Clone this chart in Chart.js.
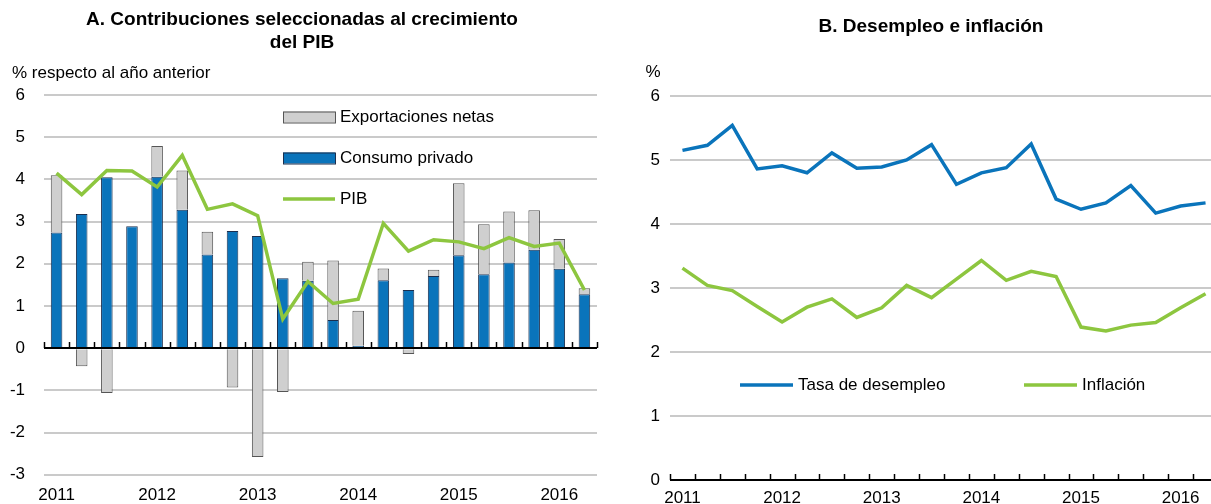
<!DOCTYPE html>
<html>
<head>
<meta charset="utf-8">
<script src="https://cdn.jsdelivr.net/npm/chart.js@4"></script>
<style>
  html, body { margin: 0; padding: 0; background: #fff; overflow: hidden; }
  body { width: 1211px; height: 504px; position: relative; }
  .panel { position: absolute; top: 0; height: 504px; }
  #panelA { left: 0; width: 605px; }
  #panelB { left: 610px; width: 610px; }
</style>
</head>
<body>
<div class="panel" id="panelA"><canvas id="chartA"></canvas></div>
<div class="panel" id="panelB"><canvas id="chartB"></canvas></div>
<script>
// Data (quarterly, 2011T1 - 2016T2)
const quarters = [
    '2011T1', '2011T2', '2011T3', '2011T4',
    '2012T1', '2012T2', '2012T3', '2012T4',
    '2013T1', '2013T2', '2013T3', '2013T4',
    '2014T1', '2014T2', '2014T3', '2014T4',
    '2015T1', '2015T2', '2015T3', '2015T4',
    '2016T1', '2016T2'
];
const yearLabels = ['2011', '2012', '2013', '2014', '2015', '2016'];

// Panel A
const consumoPrivado = [2.74, 3.18, 4.05, 2.89, 4.06, 3.28, 2.22, 2.78, 2.66, 1.66, 1.60, 0.67,
    0.06, 1.61, 1.38, 1.71, 2.20, 1.75, 2.03, 2.33, 1.88, 1.28];
const exportacionesNetas = [1.36, -0.43, -1.06, 0, 0.73, 0.93, 0.54, -0.93, -2.58, -1.04, 0.45, 1.41,
    0.83, 0.28, -0.14, 0.15, 1.71, 1.19, 1.21, 0.94, 0.71, 0.14];
const pib = [4.15, 3.64, 4.21, 4.20, 3.82, 4.57, 3.29, 3.42, 3.14, 0.69, 1.58, 1.06,
    1.16, 2.96, 2.30, 2.57, 2.52, 2.36, 2.62, 2.41, 2.49, 1.38];

// Panel B
const desempleo = [5.15, 5.23, 5.54, 4.86, 4.91, 4.80, 5.11, 4.87, 4.89, 5.00, 5.24, 4.62,
    4.80, 4.88, 5.25, 4.39, 4.23, 4.33, 4.60, 4.17, 4.28, 4.33];
const inflacion = [3.31, 3.04, 2.96, 2.71, 2.47, 2.70, 2.83, 2.54, 2.69, 3.04, 2.85, 3.14,
    3.43, 3.12, 3.26, 3.18, 2.39, 2.33, 2.42, 2.46, 2.69, 2.91];

// Style
const FONT = '"Liberation Sans", Arial, sans-serif';
const BLUE = '#0a74bb';
const GREEN = '#8dc63f';
const GREY = '#cfcfcf';
const GRID = '#cacaca';

Chart.defaults.font.family = FONT;
Chart.defaults.color = '#000';
Chart.defaults.animation = false;

function yearTick(value, index) {
    return index % 4 === 0 ? yearLabels[index / 4] : '';
}

// Zero line + small quarter ticks pointing up
const quarterTicks = {
    id: 'quarterTicks',
    afterDatasetsDraw(chart) {
        const x = chart.scales.x;
        const y0 = Math.round(chart.scales.y.getPixelForValue(0));
        const ctx = chart.ctx;
        ctx.save();
        ctx.strokeStyle = '#000';
        ctx.lineWidth = 2;
        ctx.beginPath();
        ctx.moveTo(chart.chartArea.left, y0);
        ctx.lineTo(chart.chartArea.right, y0);
        ctx.stroke();
        ctx.lineWidth = 1.5;
        for (let i = 0; i <= chart.data.labels.length; i++) {
            const px = Math.round(x.getPixelForValue(i - 0.5)) + 0.5;
            ctx.beginPath();
            ctx.moveTo(px, y0);
            ctx.lineTo(px, y0 - 6);
            ctx.stroke();
        }
        ctx.restore();
    }
};

// Titles, unit labels and the in-plot legend
const panelText = {
    id: 'panelText',
    afterDraw(chart, args, opts) {
        const ctx = chart.ctx;
        ctx.save();
        ctx.fillStyle = '#000';
        ctx.textBaseline = 'middle';
        (opts.texts || []).forEach(t => {
            ctx.font = t.font;
            ctx.textAlign = t.align || 'left';
            ctx.fillText(t.text, t.x, t.y);
        });
        (opts.legend || []).forEach(item => {
            const ds = chart.data.datasets[item.dataset];
            if (ds.type === 'line') {
                ctx.strokeStyle = ds.borderColor;
                ctx.lineWidth = ds.borderWidth;
                ctx.beginPath();
                ctx.moveTo(item.x, item.y);
                ctx.lineTo(item.x + item.w, item.y);
                ctx.stroke();
            } else {
                ctx.fillStyle = ds.backgroundColor;
                ctx.fillRect(item.x, item.y - 5.5, item.w, 11);
                ctx.strokeStyle = ds.borderColor;
                ctx.lineWidth = 1;
                ctx.strokeRect(item.x + 0.5, item.y - 5, item.w, 11);
            }
            ctx.fillStyle = '#000';
            ctx.font = '17px ' + FONT;
            ctx.textAlign = 'left';
            ctx.fillText(ds.label, item.x + item.w + 5, item.y);
        });
        ctx.restore();
    }
};

function yAxis(min, max, width, pad) {
    return {
        min: min,
        max: max,
        afterFit: s => { s.width = width; },
        ticks: { stepSize: 1, padding: pad, font: { size: 17 } },
        grid: { color: GRID, lineWidth: 2, drawTicks: false },
        border: { display: false }
    };
}

function xAxis(height, pad) {
    return {
        afterFit: s => { s.height = height; },
        ticks: { autoSkip: false, maxRotation: 0, padding: pad, font: { size: 17 }, callback: yearTick },
        grid: { display: false, drawTicks: false },
        border: { display: false }
    };
}

// Panel A: contributions to GDP growth
new Chart(document.getElementById('chartA'), {
    type: 'bar',
    data: {
        labels: quarters,
        datasets: [
            {
                label: 'Consumo privado',
                data: consumoPrivado,
                backgroundColor: BLUE,
                borderColor: '#1b2f4f',
                borderWidth: 1,
                stack: 'c',
                order: 1
            },
            {
                label: 'Exportaciones netas',
                data: exportacionesNetas,
                backgroundColor: GREY,
                borderColor: '#555',
                borderWidth: 1,
                stack: 'c',
                order: 1
            },
            {
                type: 'line',
                label: 'PIB',
                data: pib,
                borderColor: GREEN,
                borderWidth: 3.5,
                pointRadius: 0,
                tension: 0,
                stack: 'pib',
                order: 0
            }
        ]
    },
    options: {
        responsive: true,
        maintainAspectRatio: false,
        layout: { padding: { top: 95, left: 0, right: 8, bottom: 0 } },
        datasets: { bar: { barPercentage: 0.46, categoryPercentage: 1 } },
        scales: {
            x: { ...xAxis(27, 10), stacked: true },
            y: { ...yAxis(-3, 6, 44, 19), stacked: true }
        },
        plugins: {
            legend: { display: false },
            tooltip: { enabled: false },
            panelText: {
                texts: [
                    { text: 'A. Contribuciones seleccionadas al crecimiento', x: 302, y: 20, align: 'center', font: 'bold 19px ' + FONT },
                    { text: 'del PIB', x: 302, y: 43, align: 'center', font: 'bold 19px ' + FONT },
                    { text: '% respecto al año anterior', x: 12, y: 73, font: '17px ' + FONT }
                ],
                legend: [
                    { dataset: 1, x: 283, y: 117, w: 52 },
                    { dataset: 0, x: 283, y: 158, w: 52 },
                    { dataset: 2, x: 283, y: 199, w: 52 }
                ]
            }
        }
    },
    plugins: [quarterTicks, panelText]
});

// Panel B: unemployment and inflation
new Chart(document.getElementById('chartB'), {
    type: 'line',
    data: {
        labels: quarters,
        datasets: [
            {
                type: 'line',
                label: 'Tasa de desempleo',
                data: desempleo,
                borderColor: BLUE,
                borderWidth: 3.5,
                pointRadius: 0,
                tension: 0
            },
            {
                type: 'line',
                label: 'Inflación',
                data: inflacion,
                borderColor: GREEN,
                borderWidth: 3.5,
                pointRadius: 0,
                tension: 0
            }
        ]
    },
    options: {
        responsive: true,
        maintainAspectRatio: false,
        layout: { padding: { top: 96, left: 0, right: 2, bottom: 0 } },
        scales: {
            x: { ...xAxis(24, 8), offset: true },
            y: yAxis(0, 6, 60, 10)
        },
        plugins: {
            legend: { display: false },
            tooltip: { enabled: false },
            panelText: {
                texts: [
                    { text: 'B. Desempleo e inflación', x: 321, y: 27, align: 'center', font: 'bold 19px ' + FONT },
                    { text: '%', x: 43, y: 72, align: 'center', font: '17px ' + FONT }
                ],
                legend: [
                    { dataset: 0, x: 130, y: 385, w: 53 },
                    { dataset: 1, x: 414, y: 385, w: 53 }
                ]
            }
        }
    },
    plugins: [quarterTicks, panelText]
});
</script>
</body>
</html>
